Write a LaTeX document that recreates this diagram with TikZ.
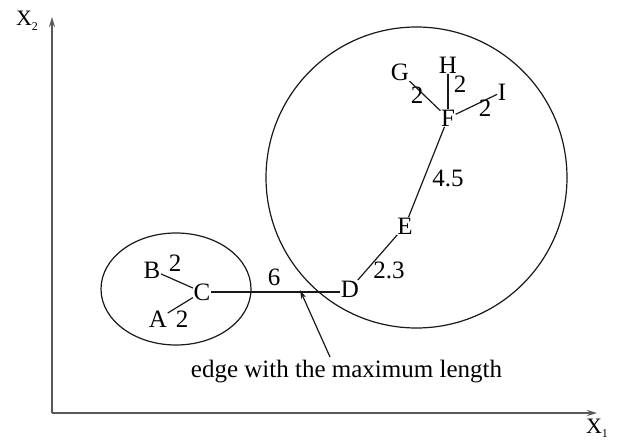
\documentclass[tikz,border=0pt]{standalone}
\usepackage{fontspec}
\setmainfont{Liberation Serif}
\usetikzlibrary{arrows.meta}
\begin{document}
\begin{tikzpicture}[x=1pt,y=-1pt,
  lbl/.style={inner sep=0.5pt, font=\fontsize{25}{28}\selectfont},
  num/.style={inner sep=0pt, font=\fontsize{25}{28}\selectfont},
  edge/.style={line width=1.2pt, black!90},
  axis/.style={line width=1.6pt, black!65, -{Stealth[length=10pt,width=6pt]}},
  ring/.style={line width=1.2pt, black!90},
  pointer/.style={line width=1.2pt, black!90, -{Stealth[length=9pt,width=5pt]}}]
\useasboundingbox (0,0) rectangle (619,441);
% axes
\coordinate (O) at (52,413);
\coordinate (Ytop) at (52,17);
\coordinate (Xend) at (597,413);
\draw[axis] (O) -- (Ytop);
\draw[axis] (O) -- (Xend);
\node[num, font=\fontsize{22}{24}\selectfont] (x2) at (27,21) {X\raisebox{-5pt}{\fontsize{12}{12}\selectfont 2}};
\node[num, font=\fontsize{22}{24}\selectfont] (x1) at (597,428) {X\raisebox{-4pt}{\fontsize{12}{12}\selectfont 1}};
% clusters
\draw[ring] (176,289) ellipse [x radius=75, y radius=56];
\draw[ring] (416.5,177.5) circle [radius=150.5];
% nodes
\node[lbl] (B) at (152,270) {B};
\node[lbl] (C) at (202,292) {C};
\node[lbl] (A) at (158,319) {A};
\node[lbl] (D) at (350,289) {D};
\node[lbl] (E) at (405,226) {E};
\node[lbl] (F) at (448,118) {F};
\node[lbl] (G) at (400,72) {G};
\node[lbl] (H) at (448,65) {H};
\node[lbl] (I) at (502,92) {I};
% edges
\draw[edge] (B) -- (C);
\draw[edge] (A) -- (C);
\draw[edge] (C.east) -- (C.east -| D.west);
\draw[edge] (D) -- (E);
\draw[edge] (E) -- (F);
\draw[edge] (G) -- (F);
\draw[edge] (H) -- (F);
\draw[edge] (I) -- (F);
% weights
\node[num] (wBC) at (175,263) {2};
\node[num] (wAC) at (182,319) {2};
\node[num] (wCD) at (274,277) {6};
\node[num] (wDE) at (389,270) {2.3};
\node[num] (wEF) at (448,178) {4.5};
\node[num] (wGF) at (417,95) {2};
\node[num] (wHF) at (460,84) {2};
\node[num] (wIF) at (485,108) {2};
% annotation
\node[num, anchor=base] (cap) at (346.5,377) {edge with the maximum length};
\coordinate (tail) at (330,357);
\coordinate (tip) at (300,290);
\draw[pointer] (tail) -- (tip);
\end{tikzpicture}
\end{document}
